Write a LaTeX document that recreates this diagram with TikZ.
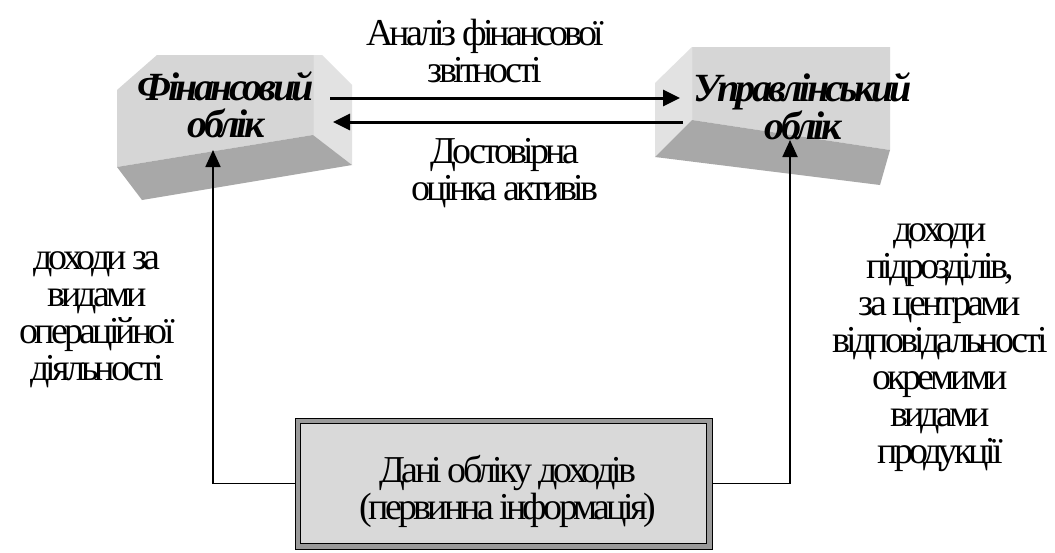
\documentclass[tikz,border=0pt]{standalone}
\usepackage{fontspec}
\setmainfont{Liberation Serif}
\newfontfamily\cond[LetterSpace=-10]{Liberation Serif}
\newfontfamily\condbi[LetterSpace=-9]{Liberation Serif}
\usetikzlibrary{arrows.meta}
\definecolor{facefront}{HTML}{D6D6D6}
\definecolor{faceside}{HTML}{E2E2E2}
\definecolor{facebottom}{HTML}{A8A8A8}
\definecolor{framegray}{HTML}{9A9A9A}
\definecolor{boxfill}{HTML}{D9D9D9}
\begin{document}
\begin{tikzpicture}[x=1pt,y=-1pt,
  lbl/.style={font=\cond\fontsize{38}{37}\selectfont, align=center, inner sep=0pt},
  boxlbl/.style={font=\condbi\bfseries\itshape\fontsize{40}{37}\selectfont, align=center, inner sep=0pt},
  arr/.style={line width=3pt, -{Triangle[length=17pt,width=16pt]}},
  conn/.style={line width=1.8pt, -{Triangle[length=17pt,width=15pt]}},
  edge/.style={draw=white!70!gray, line width=0.6pt}]
\useasboundingbox (0,0) rectangle (1055,552);
\fill[white] (0,0) rectangle (1055,552);

% left 3D box (Finance accounting)
\fill[facefront] (117,90) -- (157,55) -- (313,55) -- (313,135) -- (117,167) -- cycle;
\fill[faceside] (313,55) -- (322,55) -- (352,85) -- (352,165) -- (313,135) -- cycle;
\fill[facebottom] (117,167) -- (313,135) -- (352,165) -- (142,200) -- cycle;
\draw[edge] (313,55) -- (313,135);

% right 3D box (Management accounting)
\fill[faceside] (655,83) -- (692,47) -- (692,120) -- (655,157) -- cycle;
\fill[facefront] (692,47) -- (890,47) -- (890,150) -- (692,120) -- cycle;
\fill[facebottom] (655,157) -- (692,120) -- (890,150) -- (880,185) -- cycle;
\draw[edge] (692,47) -- (692,120);

\node[boxlbl] (fin) at (226,105) {Фінансовий\\облік};
\node[boxlbl] (mgmt) at (803,106) {Управлінський\\облік};

% named connector points
\coordinate (finR1) at (330,98);
\coordinate (mgL1) at (680,98);
\coordinate (mgL2) at (683,122);
\coordinate (finR2) at (333,122);
\coordinate (finB) at (213,150);
\coordinate (mgB) at (790,140);

\draw[arr] (finR1) -- (mgL1);
\draw[arr] (mgL2) -- (finR2);

\node[lbl] (anal) at (485,51) {Аналіз фінансової\\звітності};
\node[lbl] (dost) at (505,173) {Достовірна\\оцінка активів};

\node[lbl] (left) at (97,320) {доходи за\\видами\\операційної\\діяльності};
\node[lbl] (right) at (940,348) {доходи\\підрозділів,\\за центрами\\відповідальності\\окремими\\видами\\продукції};

% bottom data box
\node[draw=black, line width=0.8pt, fill=framegray, minimum width=417pt, minimum height=131pt, inner sep=0pt] (data) at (503.5,483.5) {};
\node[draw=black, line width=0.8pt, fill=boxfill, minimum width=406pt, minimum height=120pt, inner sep=0pt] (datain) at (data.center) {};
\node[lbl] (datatxt) at (508,491) {Дані обліку доходів\\(первинна інформація)};

\draw[conn] (data.west) -| (finB);
\draw[conn] (data.east) -| (mgB);
\end{tikzpicture}
\end{document}
